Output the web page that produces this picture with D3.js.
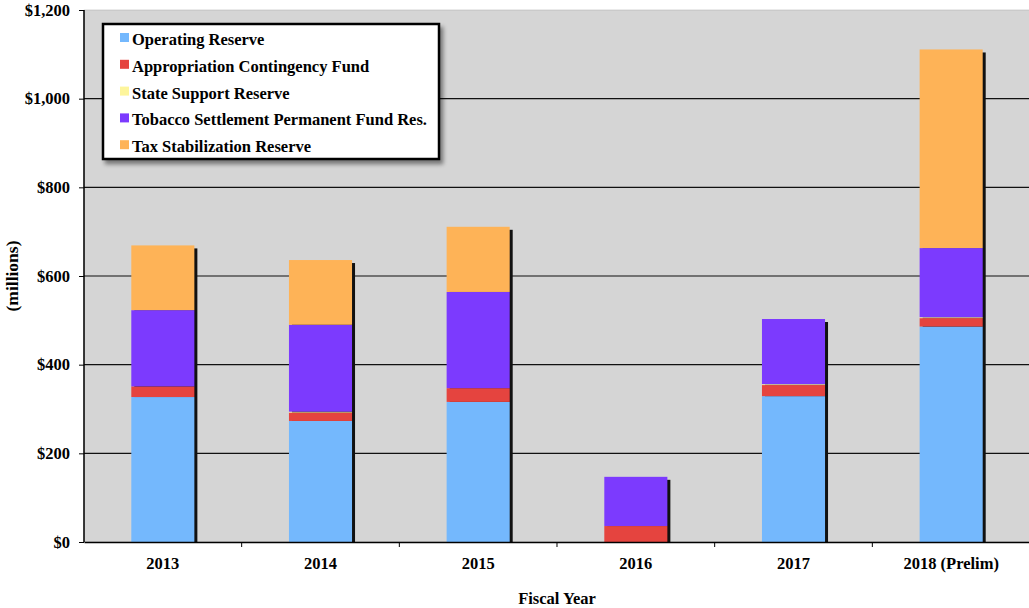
<!DOCTYPE html>
<html>
<head>
<meta charset="utf-8">
<script src="https://cdn.jsdelivr.net/npm/d3@7"></script>
<style>
  body { margin: 0; background: #fff; }
  svg text { font-family: "Liberation Serif", "Times New Roman", serif; font-weight: bold; }
</style>
</head>
<body>
<svg id="chart" width="1029" height="608"></svg>
<script>
// data (millions)
var years = ["2013", "2014", "2015", "2016", "2017", "2018 (Prelim)"];
var operatingReserve   = [327, 273, 316, 0, 329, 486];
var appropContingency  = [24, 19, 31, 36, 25, 19];
var stateSupport       = [0, 2, 0, 0, 2, 2];
var tobaccoSettlement  = [172, 196, 217, 111, 147, 156];
var taxStabilization   = [146, 146, 147, 0, 0, 448];
var seriesNames = ["Operating Reserve", "Appropriation Contingency Fund", "State Support Reserve",
                   "Tobacco Settlement Permanent Fund Res.", "Tax Stabilization Reserve"];
var seriesColors = ["#74b8fd", "#e5443f", "#fdf59c", "#7c3afe", "#feb357"];
var yTicks = [0, 200, 400, 600, 800, 1000, 1200];

var svg = d3.select("#chart");
// note: "top" is a reserved window global, so use plot* names
var plotL = 84, plotR = 1030, plotT = 10, plotB = 542;
var fs = 16.5;

var rows = years.map(function(y, i) {
  return {year: y, s0: operatingReserve[i], s1: appropContingency[i], s2: stateSupport[i],
          s3: tobaccoSettlement[i], s4: taxStabilization[i]};
});
var keys = ["s0", "s1", "s2", "s3", "s4"];
var stacked = d3.stack().keys(keys)(rows);
var total = function(d) { return d.s0 + d.s1 + d.s2 + d.s3 + d.s4; };

var x = d3.scaleBand().domain(years).range([plotL, plotR]).paddingInner(0.6).paddingOuter(0.3);
var xTick = d3.scaleBand().domain(years).range([plotL, plotR]);
var y = d3.scaleLinear().domain([0, 1200]).range([plotB, plotT]);

var defs = svg.append("defs");
var f = defs.append("filter").attr("id", "shadow").attr("x", "-10%").attr("y", "-10%")
  .attr("width", "130%").attr("height", "130%");
f.append("feGaussianBlur").attr("in", "SourceAlpha").attr("stdDeviation", 2);
f.append("feOffset").attr("dx", 3).attr("dy", 4).attr("result", "b");
f.append("feComponentTransfer").append("feFuncA").attr("type", "linear").attr("slope", 0.45);
var m = f.append("feMerge");
m.append("feMergeNode");
m.append("feMergeNode").attr("in", "SourceGraphic");
defs.append("clipPath").attr("id", "plotclip").append("rect")
  .attr("x", plotL).attr("y", plotT).attr("width", plotR - plotL).attr("height", plotB - plotT);

// plot background
svg.append("rect").attr("x", plotL).attr("y", plotT).attr("width", plotR - plotL).attr("height", plotB - plotT)
  .attr("fill", "#d5d5d5").attr("stroke", "#aaa").attr("stroke-width", 0.5);

// grid
svg.append("g").selectAll("line").data(yTicks.slice(1, -1)).enter().append("line")
  .attr("x1", plotL).attr("x2", plotR).attr("y1", function(d) { return y(d); }).attr("y2", function(d) { return y(d); })
  .attr("stroke", "#111").attr("stroke-width", 1.2);

var plot = svg.append("g").attr("clip-path", "url(#plotclip)");

// bar shadows
plot.selectAll("rect.shadow").data(rows).enter().append("rect")
  .attr("class", "shadow")
  .attr("x", function(d) { return x(d.year) + 3; })
  .attr("y", function(d) { return y(total(d)) + 3; })
  .attr("width", x.bandwidth())
  .attr("height", function(d) { return plotB - y(total(d)); })
  .attr("fill", "#111");

// stacked bars
plot.selectAll("g.layer").data(stacked).enter().append("g")
  .attr("fill", function(d, i) { return seriesColors[i]; })
  .selectAll("rect").data(function(d) { return d; }).enter().append("rect")
  .attr("x", function(d) { return x(d.data.year); })
  .attr("y", function(d) { return y(d[1]); })
  .attr("width", x.bandwidth())
  .attr("height", function(d) { return y(d[0]) - y(d[1]); });

// axes
var yAxis = svg.append("g").attr("transform", "translate(" + plotL + ",0)")
  .call(d3.axisLeft(y).tickValues(yTicks).tickSize(5).tickPadding(9)
    .tickFormat(function(d) { return "$" + d3.format(",")(d); }));
var xAxis = svg.append("g").attr("transform", "translate(0," + plotB + ")")
  .call(d3.axisBottom(xTick).tickSize(0).tickPadding(15));
xAxis.selectAll(".tick").filter(function(d, i) { return i > 0; }).append("line")
  .attr("x1", -xTick.bandwidth() / 2).attr("x2", -xTick.bandwidth() / 2).attr("y2", 5).attr("stroke", "#000");
[yAxis, xAxis].forEach(function(a) {
  a.select(".domain").attr("stroke", "#000").attr("stroke-width", 1.5);
  a.selectAll("text").attr("font-size", fs).attr("fill", "#000")
    .attr("font-family", "Liberation Serif, Times New Roman, serif").attr("font-weight", "bold");
});
yAxis.select(".domain").attr("d", "M0," + plotT + "V" + plotB);

// axis titles
svg.append("text").attr("transform", "translate(18," + ((plotT + plotB) / 2) + ") rotate(-90)")
  .attr("text-anchor", "middle").attr("font-size", 17.5).text("(millions)");
svg.append("text").attr("x", (plotL + plotR) / 2).attr("y", 604)
  .attr("text-anchor", "middle").attr("font-size", fs).text("Fiscal Year");

// legend
var lg = svg.append("g");
lg.append("rect").attr("x", 103).attr("y", 24).attr("width", 336).attr("height", 135)
  .attr("fill", "#fff").attr("stroke", "#000").attr("stroke-width", 2.5).attr("filter", "url(#shadow)");
var items = lg.selectAll("g.item").data(seriesNames).enter().append("g")
  .attr("transform", function(d, i) { return "translate(120," + (40 + i * 26.8) + ")"; });
items.append("rect").attr("x", 0).attr("y", -7).attr("width", 9).attr("height", 9)
  .attr("fill", function(d, i) { return seriesColors[i]; });
items.append("text").attr("x", 12).attr("y", 5).attr("font-size", fs).text(function(d) { return d; });
</script>
</body>
</html>
